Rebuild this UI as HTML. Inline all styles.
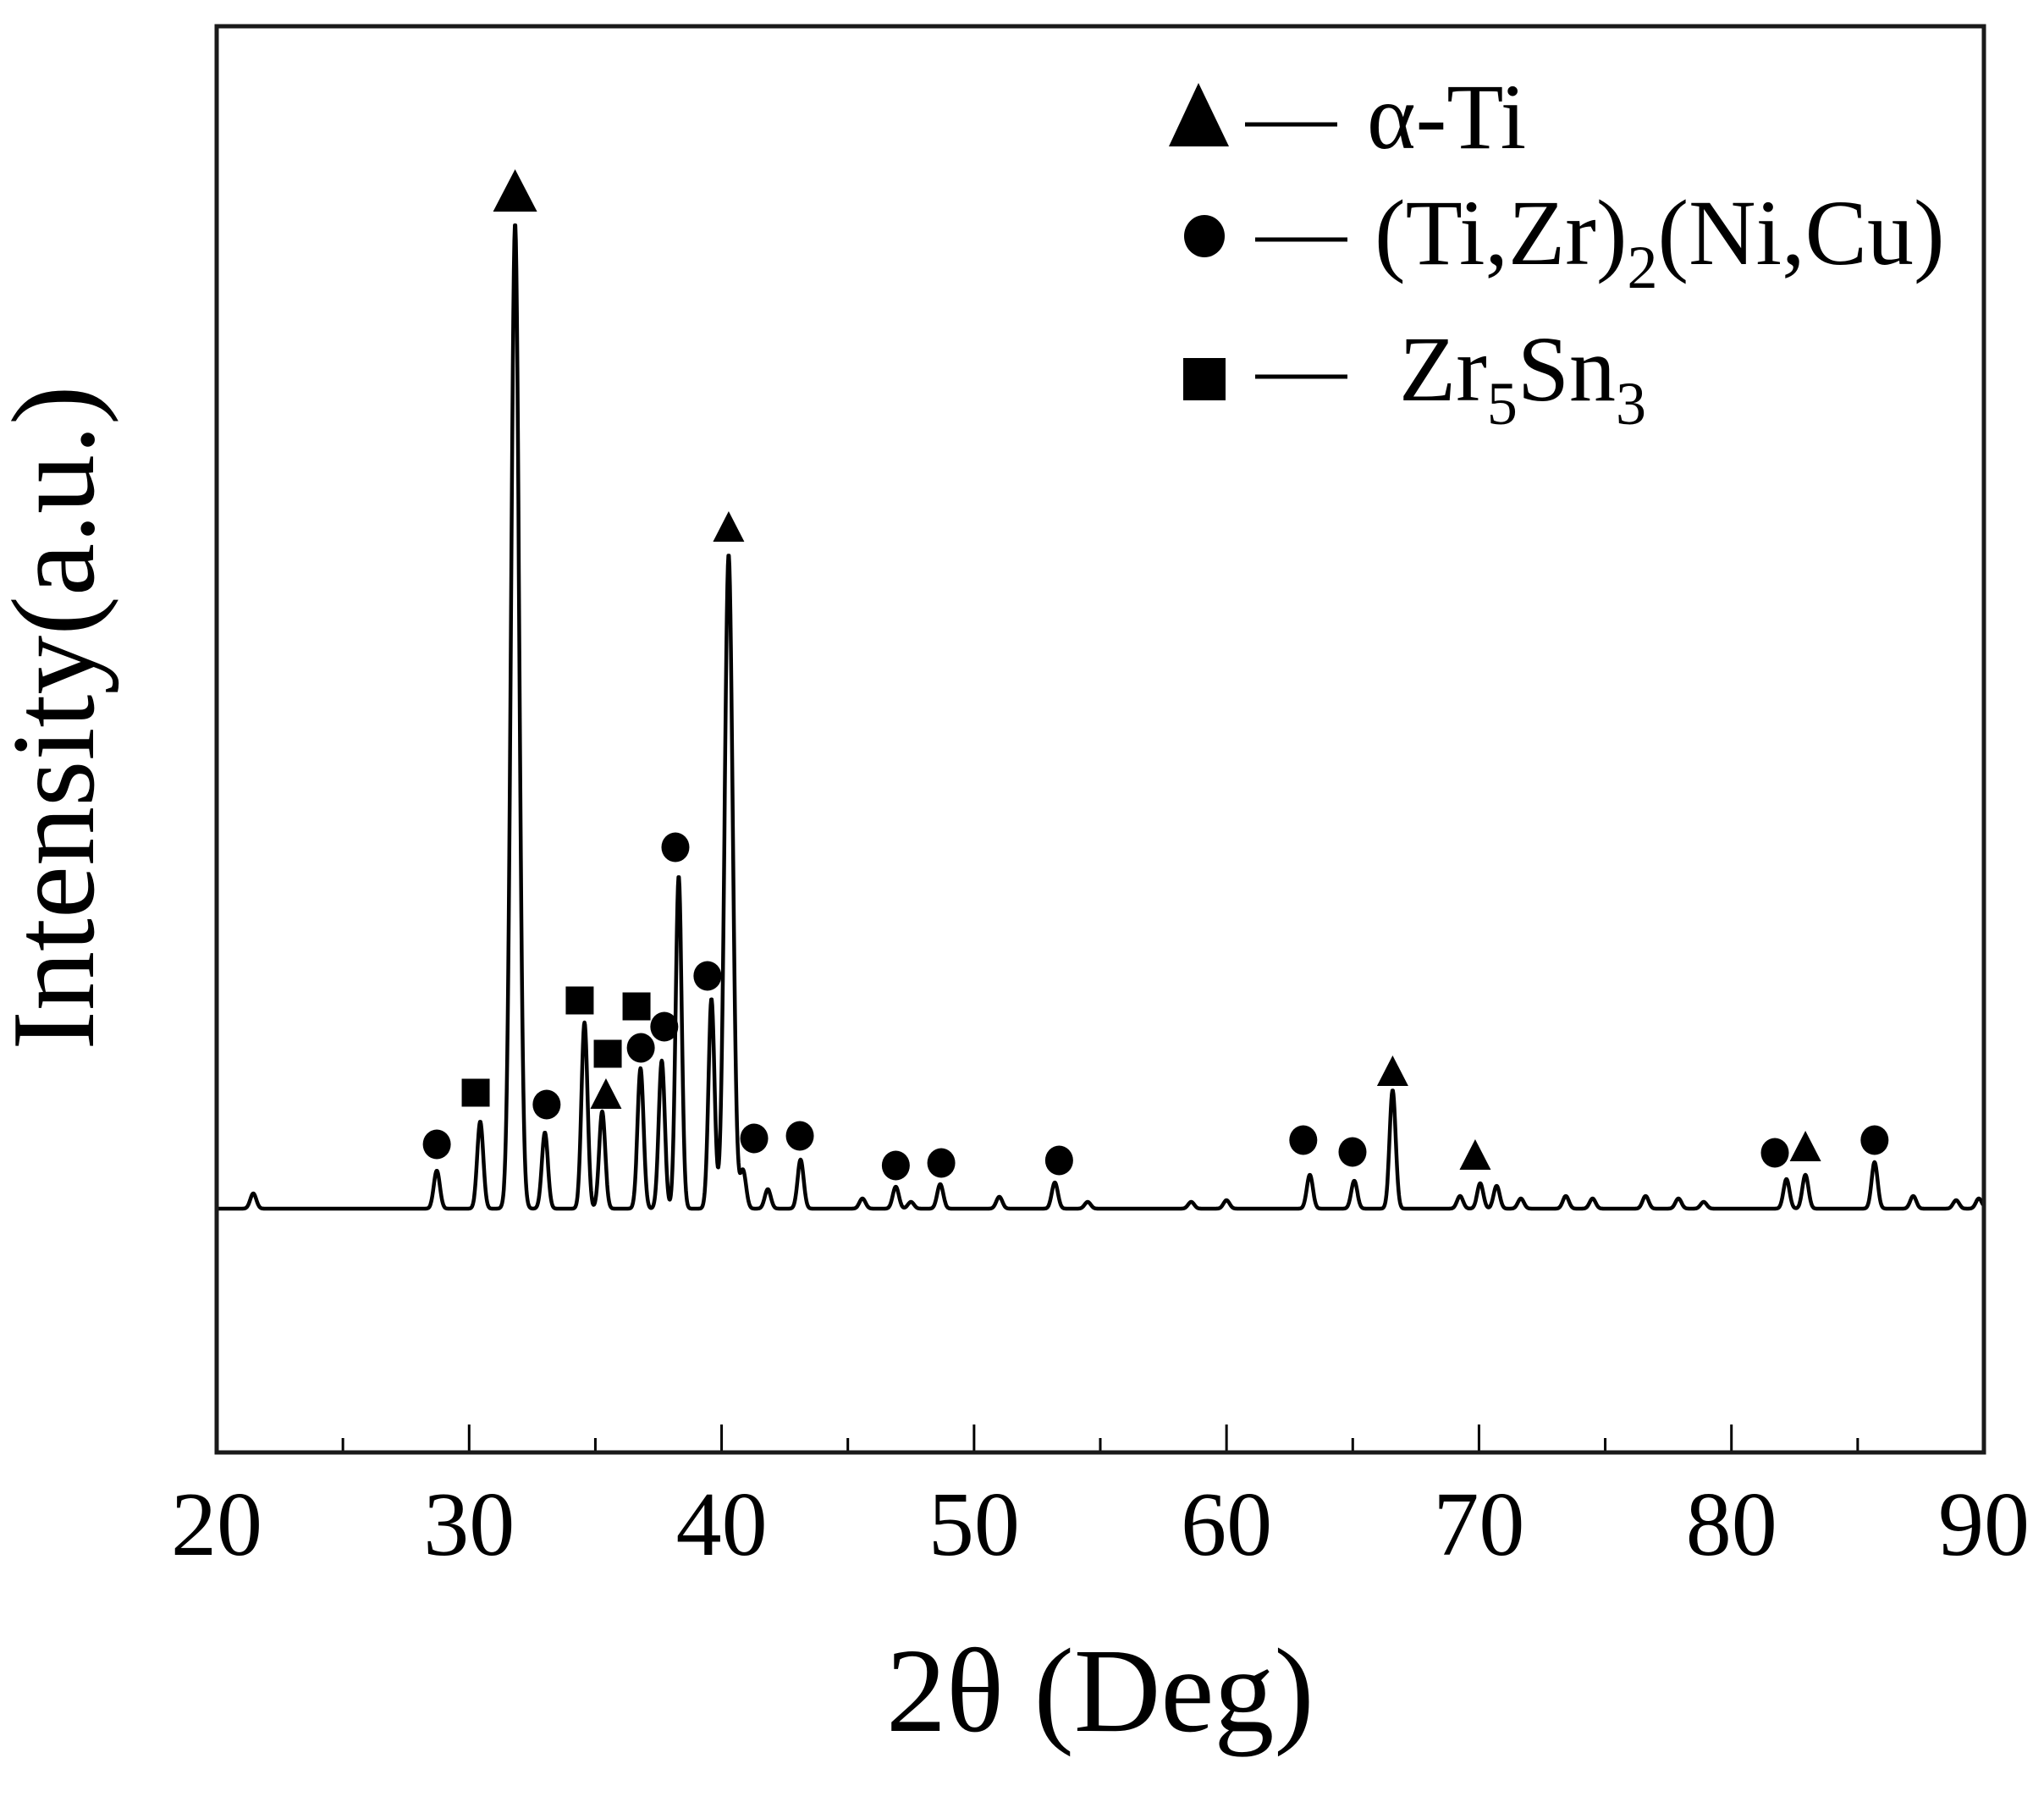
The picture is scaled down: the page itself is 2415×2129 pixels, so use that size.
<!DOCTYPE html>
<html><head><meta charset="utf-8"><style>
html,body{margin:0;padding:0;background:#fff;}
svg{display:block;}
text{font-family:"Liberation Serif","DejaVu Serif",serif;fill:#000;}
</style></head><body>
<svg id="chart" width="2415" height="2129" viewBox="0 0 2415 2129" xmlns="http://www.w3.org/2000/svg">
<rect x="0" y="0" width="2415" height="2129" fill="#fff"/>
<g id="ticks"></g>
<g id="ticklabels"></g>
<path id="pattern" fill="none" stroke="#000" stroke-width="4.5" stroke-linejoin="round"/>
<g id="markers"></g>
<rect x="256" y="31" width="2088" height="1685" fill="none" stroke="#1a1a1a" stroke-width="5"/>
<text x="0" y="0" font-size="140" transform="translate(110,848) rotate(-90)" text-anchor="middle">Intensity(a.u.)</text>
<text x="1047" y="2045" font-size="142">2θ (Deg)</text>
<g>
  <g>
    <polygon points="1381,173 1452,173 1416,98" fill="#000"/>
    <line x1="1471" y1="147" x2="1580" y2="147" stroke="#000" stroke-width="5"/>
    <text x="1615" y="175" font-size="110">α-Ti</text>
  </g>
  <g>
    <ellipse cx="1423" cy="279" rx="24" ry="25" fill="#000"/>
    <line x1="1483" y1="283" x2="1592" y2="283" stroke="#000" stroke-width="5"/>
    <text x="1624" y="312" font-size="110">(Ti,Zr)<tspan font-size="72" dy="28">2</tspan><tspan dy="-28">(Ni,Cu)</tspan></text>
  </g>
  <g>
    <rect x="1398" y="423" width="50" height="50" fill="#000"/>
    <line x1="1483" y1="445" x2="1592" y2="445" stroke="#000" stroke-width="5"/>
    <text x="1653" y="473" font-size="110">Zr<tspan font-size="72" dy="28">5</tspan><tspan dy="-28">Sn</tspan><tspan font-size="72" dy="28">3</tspan></text>
  </g>
</g>
</svg>
<script>
// ---- data ----
const peakPositions = [21.45,28.72,30.44,31.82,33.0,34.57,35.27,36.79,37.63,38.3,39.6,40.28,40.85,41.83,43.13,45.58,46.9,47.5,48.66,51.0,53.2,54.5,58.6,60.0,63.3,65.06,66.58,69.25,70.05,70.7,71.66,73.44,74.5,76.6,77.9,78.9,82.18,82.93,85.67,87.2,88.9,89.8];
const peakHeights   = [18,45,103,1164,90,220,115,166,175,393,248,773,45,23,58,12,26,8,29,14,31,8,8,10,40,33,140,15,30,27,12,15,12,15,12,8,35,40,55,15,10,12];
const markerPositions = [31.82,40.28,28.72,30.26,33.07,34.38,35.49,35.42,36.63,36.8,37.73,38.17,39.44,41.29,43.1,46.9,48.7,53.37,63.04,64.99,66.58,69.85,81.72,82.93,85.67];
const markerHeights   = [1203,806,76,137,123,246,183,136,239,190,215,427,275,83,86,51,54,57,81,67,163,64,66,74,81];
const markerTypes     = ['tri-lg','tri','circle','square','circle','square','square','tri','square','circle','circle','circle','circle','circle','circle','circle','circle','circle','circle','circle','tri','tri','circle','tri','circle'];
const xTickValues = [20,30,40,50,60,70,80,90];
const xTickLabels = ['20','30','40','50','60','70','80','90'];
const xMinorTicks = [25,35,45,55,65,75,85];

// ---- scales ----
const X0=256, X1=2344, D0=20, D1=90, BASE=1428, FRAME_BOTTOM=1716;
function xs(d){return X0+(d-D0)*(X1-X0)/(D1-D0);}
function ys(v){return BASE-v;}
const NS='http://www.w3.org/2000/svg';

function intensity(t){
  let s=0;
  for(let i=0;i<peakPositions.length;i++){
    const sg=peakHeights[i]>500?0.16:0.12;
    const dd=(t-peakPositions[i])/sg;
    s+=peakHeights[i]*Math.exp(-0.5*dd*dd);
  }
  return s;
}
let d='';
for(let t=D0+0.05;t<=D1-0.02;t+=0.02){
  d+=(d?'L':'M')+xs(t).toFixed(1)+','+ys(intensity(t)).toFixed(1);
}
document.getElementById('pattern').setAttribute('d',d);

const tg=document.getElementById('ticks');
xTickValues.forEach(v=>{
  if(v===D0||v===D1)return;
  const l=document.createElementNS(NS,'line');
  l.setAttribute('x1',xs(v));l.setAttribute('x2',xs(v));
  l.setAttribute('y1',FRAME_BOTTOM);l.setAttribute('y2',FRAME_BOTTOM-33);
  l.setAttribute('stroke','#000');l.setAttribute('stroke-width','3');
  
  
  tg.appendChild(l);
});
xMinorTicks.forEach(v=>{
  const l=document.createElementNS(NS,'line');
  l.setAttribute('x1',xs(v));l.setAttribute('x2',xs(v));
  l.setAttribute('y1',FRAME_BOTTOM);l.setAttribute('y2',FRAME_BOTTOM-17);
  l.setAttribute('stroke','#000');l.setAttribute('stroke-width','3');
  
  
  tg.appendChild(l);
});
const lg=document.getElementById('ticklabels');
xTickValues.forEach((v,i)=>{
  const t=document.createElementNS(NS,'text');
  t.setAttribute('x',xs(v));t.setAttribute('y',1837);
  t.setAttribute('font-size','108');t.setAttribute('text-anchor','middle');
  t.textContent=xTickLabels[i];
  
  
  lg.appendChild(t);
});

const mg=document.getElementById('markers');
markerPositions.forEach((p,i)=>{
  const cx=xs(p), cy=ys(markerHeights[i]), ty=markerTypes[i];
  let el;
  if(ty==='circle'){
    el=document.createElementNS(NS,'ellipse');
    el.setAttribute('cx',cx);el.setAttribute('cy',cy);
    el.setAttribute('rx',16.5);el.setAttribute('ry',17.5);
  }else if(ty==='square'){
    el=document.createElementNS(NS,'rect');
    el.setAttribute('x',cx-16.5);el.setAttribute('y',cy-16.5);
    el.setAttribute('width',33);el.setAttribute('height',33);
  }else{
    const w=ty==='tri-lg'?52:37, h=ty==='tri-lg'?50:36;
    el=document.createElementNS(NS,'polygon');
    el.setAttribute('points',(cx-w/2)+','+(cy+h/2)+' '+(cx+w/2)+','+(cy+h/2)+' '+cx+','+(cy-h/2));
  }
  el.setAttribute('fill','#000');
  
  
  mg.appendChild(el);
});
</script>
</body></html>
